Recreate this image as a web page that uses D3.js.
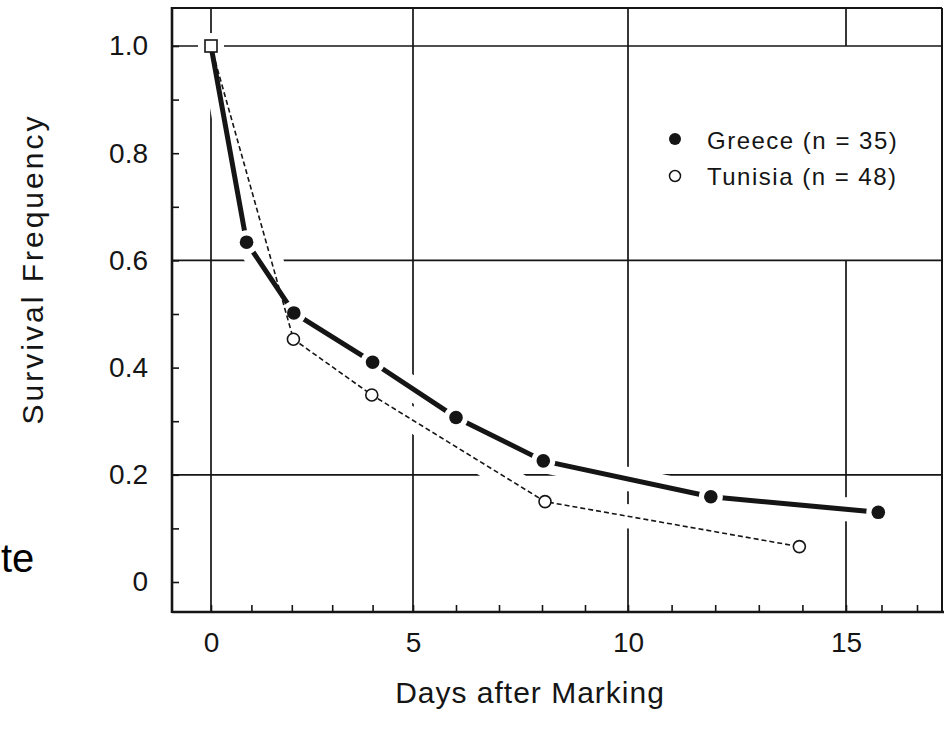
<!DOCTYPE html>
<html>
<head>
<meta charset="utf-8">
<script src="https://cdnjs.cloudflare.com/ajax/libs/d3/7.8.5/d3.min.js"></script>
<style>
  body { margin: 0; background: #fff; }
  svg { display: block; font-family: "Liberation Sans", Arial, sans-serif; }
</style>
</head>
<body>
<svg width="944" height="743"></svg>
<script>
// values
var greeceDays  = [0, 0.88, 2.05, 4, 6, 8.03, 11.9, 15.91];
var greeceSurv  = [1.0, 0.634, 0.502, 0.41, 0.307, 0.226, 0.159, 0.13];
var tunisiaDays = [0, 2.04, 3.98, 8.07, 13.93];
var tunisiaSurv = [1.0, 0.453, 0.349, 0.15, 0.066];
var xTickLabels = [0, 5, 10, 15];
var yTickLabels = [0, 0.2, 0.4, 0.6, 0.8, 1.0];
var legendLabels = ["Greece (n = 35)", "Tunisia (n = 48)"];

var greece = greeceDays.map(function(d, i) { return {day: d, surv: greeceSurv[i]}; });
var tunisia = tunisiaDays.map(function(d, i) { return {day: d, surv: tunisiaSurv[i]}; });

var svg = d3.select("svg"),
    frame = {left: 172, right: 942, top: 8, bottom: 612},
    ink = "#151515";

// scanned figure is slightly stretched, so a piecewise scale
var x = d3.scaleLinear().domain([0, 5, 10, 15, 17]).range([211, 413, 628, 846, 917]),
    y = d3.scaleLinear().domain([0, 1]).range([582, 46]);

/* grid */
var grid = svg.append("g").attr("stroke", ink).attr("stroke-width", 1.7);
[0.2, 0.6, 1.0].forEach(function(v) {
    grid.append("line").attr("x1", frame.left).attr("x2", frame.right)
        .attr("y1", y(v)).attr("y2", y(v));
});
[0, 5, 10].forEach(function(v) {
    grid.append("line").attr("x1", x(v)).attr("x2", x(v))
        .attr("y1", frame.top).attr("y2", frame.bottom);
});
// the 15-day line stops at the legend cell
grid.append("line").attr("x1", x(15)).attr("x2", x(15)).attr("y1", frame.top).attr("y2", y(1.0));
grid.append("line").attr("x1", x(15)).attr("x2", x(15)).attr("y1", y(0.6)).attr("y2", frame.bottom);

/* axes with inward ticks */
var yAxis = svg.append("g")
    .attr("transform", "translate(" + frame.left + ",0)")
    .call(d3.axisLeft(y)
        .tickValues(d3.range(0, 11).map(function(i) { return i / 10; }))
        .tickSize(-7).tickPadding(24)
        .tickFormat(function(d) {
            var hit = yTickLabels.filter(function(v) { return Math.abs(v - d) < 1e-6; });
            return hit.length ? (d === 0 ? "0" : d.toFixed(1)) : "";
        }));

var xAxis = svg.append("g")
    .attr("transform", "translate(0," + frame.bottom + ")")
    .call(d3.axisBottom(x)
        .tickValues(d3.range(0, 18))
        .tickSize(-7).tickPadding(20)
        .tickFormat(function(d) { return xTickLabels.indexOf(d) >= 0 ? d : ""; }));

[yAxis, xAxis].forEach(function(a) {
    a.select(".domain").remove();
    a.selectAll(".tick line").attr("stroke", ink).attr("stroke-width", 1.6);
    a.selectAll(".tick text").attr("fill", ink)
        .style("font-size", "28px").style("font-family", "'Liberation Sans', Arial, sans-serif");
});

/* frame */
svg.append("line").attr("x1", frame.left).attr("x2", frame.left)
    .attr("y1", frame.top - 1).attr("y2", frame.bottom + 1).attr("stroke", ink).attr("stroke-width", 2.6);
svg.append("line").attr("x1", frame.left).attr("x2", 944)
    .attr("y1", frame.bottom).attr("y2", frame.bottom).attr("stroke", ink).attr("stroke-width", 2.6);
svg.append("line").attr("x1", frame.left).attr("x2", frame.right)
    .attr("y1", frame.top).attr("y2", frame.top).attr("stroke", ink).attr("stroke-width", 2);
svg.append("line").attr("x1", frame.right).attr("x2", frame.right)
    .attr("y1", frame.top).attr("y2", frame.bottom).attr("stroke", ink).attr("stroke-width", 2);

/* lines */
var line = d3.line()
    .x(function(d) { return x(d.day); }).y(function(d) { return y(d.surv); });

// white halos break the grid where the curves cross it
svg.append("path").attr("d", line(greece)).attr("fill", "none")
    .attr("stroke", "#fff").attr("stroke-width", 24);
svg.append("path").attr("d", line(tunisia)).attr("fill", "none")
    .attr("stroke", "#fff").attr("stroke-width", 24);
svg.append("circle").attr("cx", x(0)).attr("cy", y(1)).attr("r", 13).attr("fill", "#fff");

svg.append("path").attr("d", line(greece)).attr("fill", "none")
    .attr("stroke", ink).attr("stroke-width", 5).attr("stroke-linejoin", "round");
svg.selectAll(".gap").data(greece.slice(1)).enter().append("circle")
    .attr("class", "gap")
    .attr("cx", function(d) { return x(d.day); }).attr("cy", function(d) { return y(d.surv); })
    .attr("r", 12).attr("fill", "#fff");

svg.append("path").attr("d", line(tunisia)).attr("fill", "none")
    .attr("stroke", ink).attr("stroke-width", 1.6).attr("stroke-dasharray", "5,3");

svg.selectAll(".tun").data(tunisia.slice(1)).enter().append("circle")
    .attr("class", "tun")
    .attr("cx", function(d) { return x(d.day); }).attr("cy", function(d) { return y(d.surv); })
    .attr("r", 6).attr("fill", "#fff").attr("stroke", ink).attr("stroke-width", 1.6);

svg.selectAll(".gre").data(greece.slice(1)).enter().append("circle")
    .attr("class", "gre")
    .attr("cx", function(d) { return x(d.day); }).attr("cy", function(d) { return y(d.surv); })
    .attr("r", 6.8).attr("fill", ink);

// shared starting point drawn as an open square
svg.append("rect").attr("x", x(0) - 6).attr("y", y(1) - 6).attr("width", 12).attr("height", 12)
    .attr("fill", "#fff").attr("stroke", ink).attr("stroke-width", 1.6);

/* legend */
var legend = svg.append("g").attr("transform", "translate(675,139)");
legend.append("circle").attr("cx", 0).attr("cy", 0).attr("r", 6).attr("fill", ink);
legend.append("circle").attr("cx", 0).attr("cy", 37).attr("r", 5.5)
    .attr("fill", "#fff").attr("stroke", ink).attr("stroke-width", 1.5);
legend.selectAll("text").data(legendLabels).enter().append("text")
    .attr("x", 32).attr("y", function(d, i) { return 10 + i * 36; })
    .attr("fill", ink).style("font-size", "24px").style("letter-spacing", "1.5px")
    .text(function(d) { return d; });

/* titles */
svg.append("text")
    .attr("transform", "translate(43,269) rotate(-90)")
    .attr("text-anchor", "middle").attr("fill", ink)
    .style("font-size", "30px").style("letter-spacing", "3px")
    .text("Survival Frequency");

svg.append("text")
    .attr("x", 530).attr("y", 703)
    .attr("text-anchor", "middle").attr("fill", ink)
    .style("font-size", "30px").style("letter-spacing", "1px")
    .text("Days after Marking");

svg.append("text")
    .attr("x", 1).attr("y", 572)
    .attr("fill", "#000")
    .style("font-size", "40px")
    .text("te");
</script>
</body>
</html>
